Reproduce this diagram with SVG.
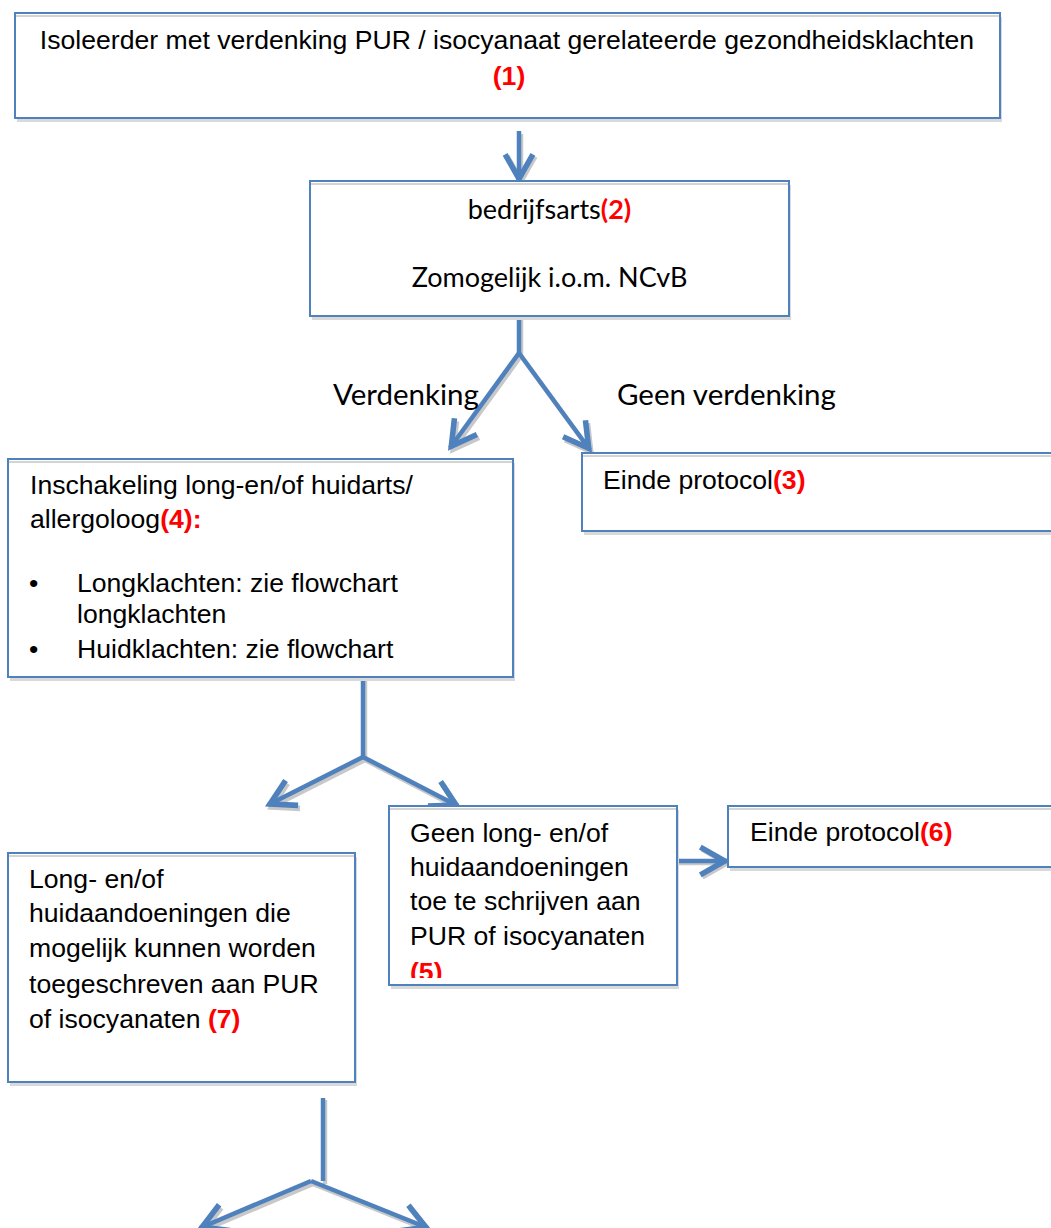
<svg xmlns="http://www.w3.org/2000/svg" width="1051" height="1228" viewBox="0 0 1051 1228">
<style>
.box{fill:#fff;stroke:#4f81bd;stroke-width:2}
.shd{fill:#d9d9d9}
.inl{stroke:#d4d4d4;stroke-width:2}
.ar{font-family:"Liberation Sans",Arial,sans-serif;font-size:26.6px;fill:#000}
.ca{font-family:Lato,"Open Sans",sans-serif;font-size:27px;fill:#000}
.lbl{font-family:Lato,"Open Sans",sans-serif;font-size:29.5px;fill:#000}
.red{fill:#ff0000;font-weight:bold}
.conn{fill:none;stroke:#4f81bd;stroke-width:4.5;marker-end:url(#ah)}
.cs{fill:none;stroke:#c8c8c8;stroke-width:4.5;marker-end:url(#ahs)}
.plain{fill:none;stroke:#4f81bd;stroke-width:4.5}
.plains{fill:none;stroke:#c8c8c8;stroke-width:4.5}
</style>
<defs>
<marker id="ah" markerUnits="userSpaceOnUse" markerWidth="40" markerHeight="40" viewBox="-30 -15 36 30" refX="0" refY="0" orient="auto" overflow="visible">
<path d="M-24,-12.5 L-2,0 L-24,12.5" fill="none" stroke="#4f81bd" stroke-width="5"/>
</marker>
<marker id="ahs" markerUnits="userSpaceOnUse" markerWidth="40" markerHeight="40" viewBox="-30 -15 36 30" refX="0" refY="0" orient="auto" overflow="visible">
<path d="M-24,-12.5 L-2,0 L-24,12.5" fill="none" stroke="#c8c8c8" stroke-width="5"/>
</marker>
<clipPath id="clip5"><rect x="389" y="806" width="288" height="172"/></clipPath>
</defs>
<rect width="1051" height="1228" fill="#fff"/>

<g id="connectors">
<g id="connector-shadows">
<path class="cs" d="M521,134 L521,183"/>
<path class="plains" d="M521,318 L521,356"/>
<path class="cs" d="M521,356 L452,451"/>
<path class="cs" d="M521,356 L592,453"/>
<path class="plains" d="M365,679 L365,760"/>
<path class="cs" d="M365,760 L270,808"/>
<path class="cs" d="M365,760 L460,809"/>
<path class="cs" d="M679,863 L729,863"/>
<path class="plains" d="M325,1100 L325,1184"/>
<path class="cs" d="M313,1184 L202,1231"/>
<path class="cs" d="M313,1184 L430,1231"/>
</g>
<g id="connector-lines">
<path class="conn" d="M519,131 L519,181"/>
<path class="plain" d="M519,316 L519,353"/>
<path class="conn" d="M519,353 L450,448"/>
<path class="conn" d="M519,353 L590,450"/>
<path class="plain" d="M363,677 L363,757"/>
<path class="conn" d="M363,757 L268,805"/>
<path class="conn" d="M363,757 L458,806"/>
<path class="conn" d="M677,861 L727,861"/>
<path class="plain" d="M323,1098 L323,1181"/>
<path class="conn" d="M311,1181 L200,1228"/>
<path class="conn" d="M311,1181 L428,1228"/>
</g>
<text class="lbl" x="333" y="405">Verdenking</text>
<text class="lbl" x="617" y="405">Geen verdenking</text>
</g>

<g id="node1">
<rect class="shd" x="17" y="17" width="985" height="105"/>
<rect class="box" x="15" y="13" width="985" height="105"/>
<line class="inl" x1="16" y1="16" x2="999" y2="16"/>
<text class="ar" x="507" y="49" text-anchor="middle">Isoleerder met verdenking PUR / isocyanaat gerelateerde gezondheidsklachten</text>
<text class="ar red" x="509" y="85" text-anchor="middle">(1)</text>
</g>

<g id="node2">
<rect class="shd" x="312" y="185" width="479" height="135"/>
<rect class="box" x="310" y="181" width="479" height="135"/>
<line class="inl" x1="311" y1="184" x2="788" y2="184"/>
<text class="ca" x="549.5" y="219" text-anchor="middle">bedrijfsarts<tspan class="red">(2)</tspan></text>
<text class="ca" x="549.5" y="287" text-anchor="middle">Zomogelijk i.o.m. NCvB</text>
</g>

<g id="node3">
<rect class="shd" x="584" y="457" width="480" height="78"/>
<rect class="box" x="582" y="453" width="480" height="78"/>
<line class="inl" x1="583" y1="456" x2="1062" y2="456"/>
<text class="ar" x="603" y="489">Einde protocol<tspan class="red">(3)</tspan></text>
</g>

<g id="node4">
<rect class="shd" x="10" y="463" width="505" height="218"/>
<rect class="box" x="8" y="459" width="505" height="218"/>
<line class="inl" x1="9" y1="462" x2="512" y2="462"/>
<text class="ar" x="30" y="494">Inschakeling long-en/of huidarts/</text>
<text class="ar" x="30" y="528">allergoloog<tspan class="red">(4):</tspan></text>
<text class="ar" x="29" y="592">•</text>
<text class="ar" x="77" y="592">Longklachten: zie flowchart</text>
<text class="ar" x="77" y="623">longklachten</text>
<text class="ar" x="29" y="658">•</text>
<text class="ar" x="77" y="658">Huidklachten: zie flowchart</text>
</g>

<g id="node5">
<rect class="shd" x="391" y="810" width="288" height="179"/>
<rect class="box" x="389" y="806" width="288" height="179"/>
<line class="inl" x1="390" y1="809" x2="676" y2="809"/>
<g clip-path="url(#clip5)">
<text class="ar" x="410" y="842">Geen long- en/of</text>
<text class="ar" x="410" y="876">huidaandoeningen</text>
<text class="ar" x="410" y="910">toe te schrijven aan</text>
<text class="ar" x="410" y="945">PUR of isocyanaten</text>
<text class="ar red" x="410" y="981">(5)</text>
</g>
</g>

<g id="node6">
<rect class="shd" x="730" y="810" width="340" height="61"/>
<rect class="box" x="728" y="806" width="340" height="61"/>
<line class="inl" x1="729" y1="809" x2="1068" y2="809"/>
<text class="ar" x="750" y="841">Einde protocol<tspan class="red">(6)</tspan></text>
</g>

<g id="node7">
<rect class="shd" x="10" y="857" width="347" height="229"/>
<rect class="box" x="8" y="853" width="347" height="229"/>
<line class="inl" x1="9" y1="856" x2="354" y2="856"/>
<text class="ar" x="29" y="888">Long- en/of</text>
<text class="ar" x="29" y="922">huidaandoeningen die</text>
<text class="ar" x="29" y="957">mogelijk kunnen worden</text>
<text class="ar" x="29" y="993">toegeschreven aan PUR</text>
<text class="ar" x="29" y="1028">of isocyanaten <tspan class="red">(7)</tspan></text>
</g>
</svg>
